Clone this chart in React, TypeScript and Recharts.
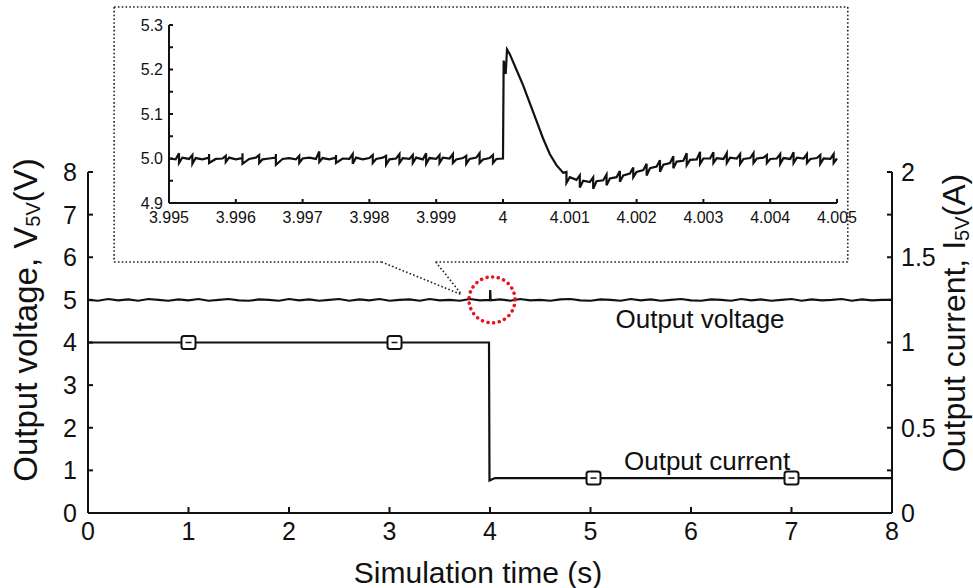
import React from "react"
import { ComposedChart, LineChart, Line, Scatter, XAxis, YAxis, ReferenceLine, ReferenceDot } from "recharts"

const FONT = '"Liberation Sans", Arial, Helvetica, sans-serif'
const INK = "#111"

// ---- main plot: 0..8 s ----
const xTicks = [0, 1, 2, 3, 4, 5, 6, 7, 8]
const vTicks = [0, 1, 2, 3, 4, 5, 6, 7, 8]
const iTicks = [0, 0.25, 0.5, 0.75, 1, 1.25, 1.5, 1.75, 2]

const mainStep = 0.1
const voltage5V = [
  5.0, 4.98, 5.02, 4.99, 5.01, 4.98, 5.02, 5.0, 4.98, 5.01,
  4.99, 5.02, 4.98, 5.0, 5.02, 4.99, 4.98, 5.01, 5.0, 4.98,
  5.02, 4.99, 5.01, 4.98, 5.0, 5.02, 4.98, 5.01, 4.99, 5.02,
  4.98, 5.0, 5.01, 4.98, 5.02, 4.99, 5.0, 4.98, 5.02, 4.99,
  5.0, 5.01, 4.98, 5.02, 4.99, 5.0, 4.98, 5.01, 5.02, 4.99,
  4.98, 5.01, 5.0, 4.98, 5.02, 4.99, 5.01, 4.98, 5.0, 5.02,
  4.99, 4.98, 5.01, 5.0, 4.98, 5.02, 4.99, 5.01, 4.98, 5.0,
  5.02, 4.98, 5.01, 4.99, 5.0, 5.02, 4.98, 5.01, 4.99, 5.0,
  5.0,
]
// small overshoot at the load step
const voltageSpike: [number, number][] = [
  [4.002, 5.23],
  [4.006, 4.99],
]

// output current (A): step from 1 A to 0.2 A at ~4 s
const currentT = [0, 3.99, 3.995, 4.05, 8]
const currentA = [1.0, 1.0, 0.19, 0.205, 0.205]

// square markers on the current trace
const markerT = [1, 3.05, 5.03, 7]
const markerA = [1.0, 1.0, 0.205, 0.205]

// ---- inset: 3.995..4.005 s ----
const insetXTicks = [3.995, 3.996, 3.997, 3.998, 3.999, 4, 4.001, 4.002, 4.003, 4.004, 4.005]
const insetYTicks = [4.9, 4.95, 5.0, 5.05, 5.1, 5.15, 5.2, 5.25, 5.3]
const insetStart = 3.995
const insetStep = 0.0001
const insetV = [
  5.0, 4.998, 5.002, 4.999, 5.001, 4.998, 5.002, 4.999, 5.0, 5.002,
  4.998, 5.001, 4.999, 5.002, 4.998, 5.0, 5.002, 4.999, 5.001, 4.998,
  5.0, 5.002, 4.999, 5.001, 4.998, 5.002, 5.0, 4.999, 5.002, 4.998,
  5.001, 4.999, 5.002, 4.998, 5.0, 5.001, 4.999, 5.002, 4.998, 5.001,
  4.999, 5.002, 5.0, 4.998, 5.001, 4.999, 5.002, 4.998, 5.001, 4.999,
  5.0,
  5.235, 5.2, 5.165, 5.125, 5.085, 5.045, 5.01, 4.985, 4.968, 4.958,
  4.952, 4.95, 4.947, 4.949, 4.951, 4.955, 4.958, 4.962, 4.966, 4.97,
  4.974, 4.978, 4.982, 4.986, 4.99, 4.993, 4.995, 4.997, 4.998, 5.0,
  5.0, 5.001, 4.999, 5.002, 5.0, 4.999, 5.001, 5.0, 5.002, 4.999,
  5.0, 5.001, 4.999, 5.002, 5.0, 4.999, 5.001, 5.0, 4.999, 5.0,
]
// the step edge right after 4 s
const insetEdge: [number, number][] = [
  [4.00001, 5.22],
  [4.00004, 5.19],
  [4.00006, 5.245],
]
// switching-noise hairs: [time, high, low]
const insetHairs: [number, number, number][] = [
  [3.99515, 5.012, 4.99], [3.99535, 5.008, 4.988], [3.9956, 5.01, 4.99],
  [3.99585, 5.006, 4.992], [3.9961, 5.012, 4.988], [3.99635, 5.008, 4.99],
  [3.9966, 5.01, 4.986], [3.99695, 5.006, 4.99], [3.99725, 5.016, 4.992],
  [3.9975, 5.008, 4.99], [3.99775, 5.01, 4.988], [3.99805, 5.008, 4.99],
  [3.99825, 5.006, 4.986], [3.99845, 5.01, 4.99], [3.99865, 5.008, 4.99],
  [3.99885, 5.012, 4.988], [3.99905, 5.008, 4.99], [3.99925, 5.01, 4.99],
  [3.99945, 5.006, 4.988], [3.99965, 5.012, 4.99], [3.99985, 5.008, 4.99],
  [4.00095, 4.97, 4.945], [4.00115, 4.962, 4.935], [4.00135, 4.958, 4.932],
  [4.00155, 4.964, 4.94], [4.00175, 4.972, 4.948], [4.00195, 4.98, 4.958],
  [4.00215, 4.988, 4.962], [4.00235, 4.996, 4.97], [4.00255, 5.005, 4.978],
  [4.00275, 5.012, 4.985], [4.00295, 5.015, 4.988], [4.00315, 5.014, 4.99],
  [4.00335, 5.012, 4.99], [4.00355, 5.01, 4.988], [4.00375, 5.012, 4.99],
  [4.00395, 5.008, 4.99], [4.00415, 5.01, 4.988], [4.00435, 5.014, 4.99],
  [4.00455, 5.01, 4.99], [4.00475, 5.008, 4.988], [4.00495, 5.01, 4.99],
]

const voltageRows = [
  ...voltage5V.map((v, i) => ({ t: +(i * mainStep).toFixed(3), v })),
  ...voltageSpike.map(([t, v]) => ({ t, v })),
].sort((a, b) => a.t - b.t)

const currentRows = currentT.map((t, i) => ({ t, a: currentA[i] }))
const markerRows = markerT.map((t, i) => ({ t, a: markerA[i] }))

const insetRows = [
  ...insetV.map((v, i) => ({ t: +(insetStart + i * insetStep).toFixed(5), v })),
  ...insetEdge.map(([t, v]) => ({ t, v })),
  ...insetHairs.flatMap(([t, hi, lo]) => [
    { t, v: hi },
    { t, v: lo },
  ]),
].sort((a, b) => a.t - b.t)

const SquareMarker = (props: any) => {
  const { cx, cy } = props
  if (cx == null || cy == null) return null
  return (
    <g>
      <rect x={cx - 7} y={cy - 6.5} width={14} height={13} rx={2.5} fill="#fff" stroke={INK} strokeWidth={2} />
      <line x1={cx - 3} x2={cx + 3} y1={cy} y2={cy} stroke={INK} strokeWidth={1.5} />
    </g>
  )
}

const TextMark = (text: string) => (p: any) => (
  <text x={p.cx} y={p.cy} textAnchor="middle" dominantBaseline="central" fontFamily={FONT} fontSize={26} fill={INK}>
    {text}
  </text>
)

const LeftTitle = () => (
  <text x={25} y={320} transform="rotate(-90, 25, 320)" textAnchor="middle" dominantBaseline="central" fontFamily={FONT} fontSize={33} fill={INK}>
    Output voltage, V
    <tspan fontSize={20} dy={8}>5V</tspan>
    <tspan dy={-8}>(V)</tspan>
  </text>
)

const RightTitle = () => (
  <text x={954} y={323} transform="rotate(-90, 954, 323)" textAnchor="middle" dominantBaseline="central" fontFamily={FONT} fontSize={32} fill={INK}>
    Output current, I
    <tspan fontSize={20} dy={8}>5V</tspan>
    <tspan dy={-8}>(A)</tspan>
  </text>
)

const BottomTitle = () => (
  <text x={478} y={572} textAnchor="middle" dominantBaseline="central" fontFamily={FONT} fontSize={30} fill={INK}>
    Simulation time (s)
  </text>
)

const dotted = { stroke: "#222", strokeWidth: 1.6, strokeDasharray: "1.6 2.2" }

// inset frame and zoom funnel, in main-plot data units
const frame: [[number, number], [number, number]][] = [
  [[0.26, 11.87], [7.56, 11.87]],
  [[0.26, 11.87], [0.26, 5.89]],
  [[7.56, 11.87], [7.56, 5.89]],
  [[0.26, 5.89], [2.92, 5.89]],
  [[3.46, 5.89], [7.56, 5.89]],
  [[2.92, 5.89], [3.72, 5.12]],
  [[3.46, 5.89], [3.72, 5.12]],
]

function Inset() {
  return (
    <div style={{ position: "absolute", left: 114, top: 7 }}>
      <LineChart width={750} height={255} data={insetRows} margin={{ top: 18, right: 27, bottom: 0, left: 0 }}>
        <XAxis
          type="number"
          dataKey="t"
          domain={[3.995, 4.005]}
          ticks={insetXTicks}
          height={59}
          tickSize={-4}
          tickMargin={13}
          interval={0}
          stroke={INK}
          strokeWidth={2}
          tick={{ fill: INK, fontSize: 16, fontFamily: FONT }}
          tickFormatter={(v: number) => (v === 4 ? "4" : v.toFixed(3))}
        />
        <YAxis
          type="number"
          domain={[4.9, 5.3]}
          ticks={insetYTicks}
          width={55}
          tickSize={-4}
          tickMargin={10}
          interval={0}
          stroke={INK}
          strokeWidth={2}
          tick={{ fill: INK, fontSize: 16, fontFamily: FONT }}
          tickFormatter={(v: number) => (Math.round(v * 100) % 10 === 0 ? v.toFixed(1) : "")}
        />
        <Line type="linear" dataKey="v" stroke={INK} strokeWidth={2.2} dot={false} isAnimationActive={false} />
      </LineChart>
    </div>
  )
}

export default function App() {
  return (
    <div style={{ position: "absolute", left: 0, top: 0, width: 973, height: 588, background: "#fff" }}>
      <ComposedChart width={973} height={588} margin={{ top: 172, right: 0, bottom: 0, left: 0 }}>
        <XAxis
          type="number"
          dataKey="t"
          domain={[0, 8]}
          ticks={xTicks}
          interval={0}
          height={75}
          tickSize={-6}
          tickMargin={15}
          stroke={INK}
          strokeWidth={2}
          tick={{ fill: INK, fontSize: 25, fontFamily: FONT }}
          label={BottomTitle}
        />
        <YAxis
          yAxisId="v"
          type="number"
          domain={[0, 8]}
          ticks={vTicks}
          interval={0}
          width={88}
          tickSize={-5}
          tickMargin={16}
          stroke={INK}
          strokeWidth={2}
          tick={{ fill: INK, fontSize: 25, fontFamily: FONT }}
          label={LeftTitle}
        />
        <YAxis
          yAxisId="i"
          orientation="right"
          type="number"
          domain={[0, 2]}
          ticks={iTicks}
          interval={0}
          width={81}
          tickSize={-5}
          tickMargin={14}
          stroke={INK}
          strokeWidth={2}
          tick={{ fill: INK, fontSize: 25, fontFamily: FONT }}
          tickFormatter={(v: number) => (Math.round(v * 100) % 50 === 0 ? String(v) : "")}
          label={RightTitle}
        />

        {frame.map((seg, k) => (
          <ReferenceLine
            key={k}
            yAxisId="v"
            segment={[
              { x: seg[0][0], y: seg[0][1] },
              { x: seg[1][0], y: seg[1][1] },
            ]}
            ifOverflow="visible"
            {...dotted}
          />
        ))}

        <Line
          yAxisId="v"
          data={voltageRows}
          dataKey="v"
          type="linear"
          stroke={INK}
          strokeWidth={2.2}
          dot={false}
          isAnimationActive={false}
        />
        <Line
          yAxisId="i"
          data={currentRows}
          dataKey="a"
          type="linear"
          stroke={INK}
          strokeWidth={2.2}
          dot={false}
          isAnimationActive={false}
        />
        <Scatter yAxisId="i" data={markerRows} dataKey="a" shape={SquareMarker} isAnimationActive={false} />

        <ReferenceDot
          yAxisId="v"
          x={4.02}
          y={5.0}
          r={23}
          fill="none"
          stroke="#e8141b"
          strokeWidth={3.5}
          strokeDasharray="0.1 5.6"
          strokeLinecap="round"
          ifOverflow="visible"
        />
        <ReferenceDot yAxisId="v" x={6.09} y={4.55} r={0} ifOverflow="visible" shape={TextMark("Output voltage")} />
        <ReferenceDot yAxisId="v" x={6.16} y={1.23} r={0} ifOverflow="visible" shape={TextMark("Output current")} />
      </ComposedChart>
      <Inset />
    </div>
  )
}
